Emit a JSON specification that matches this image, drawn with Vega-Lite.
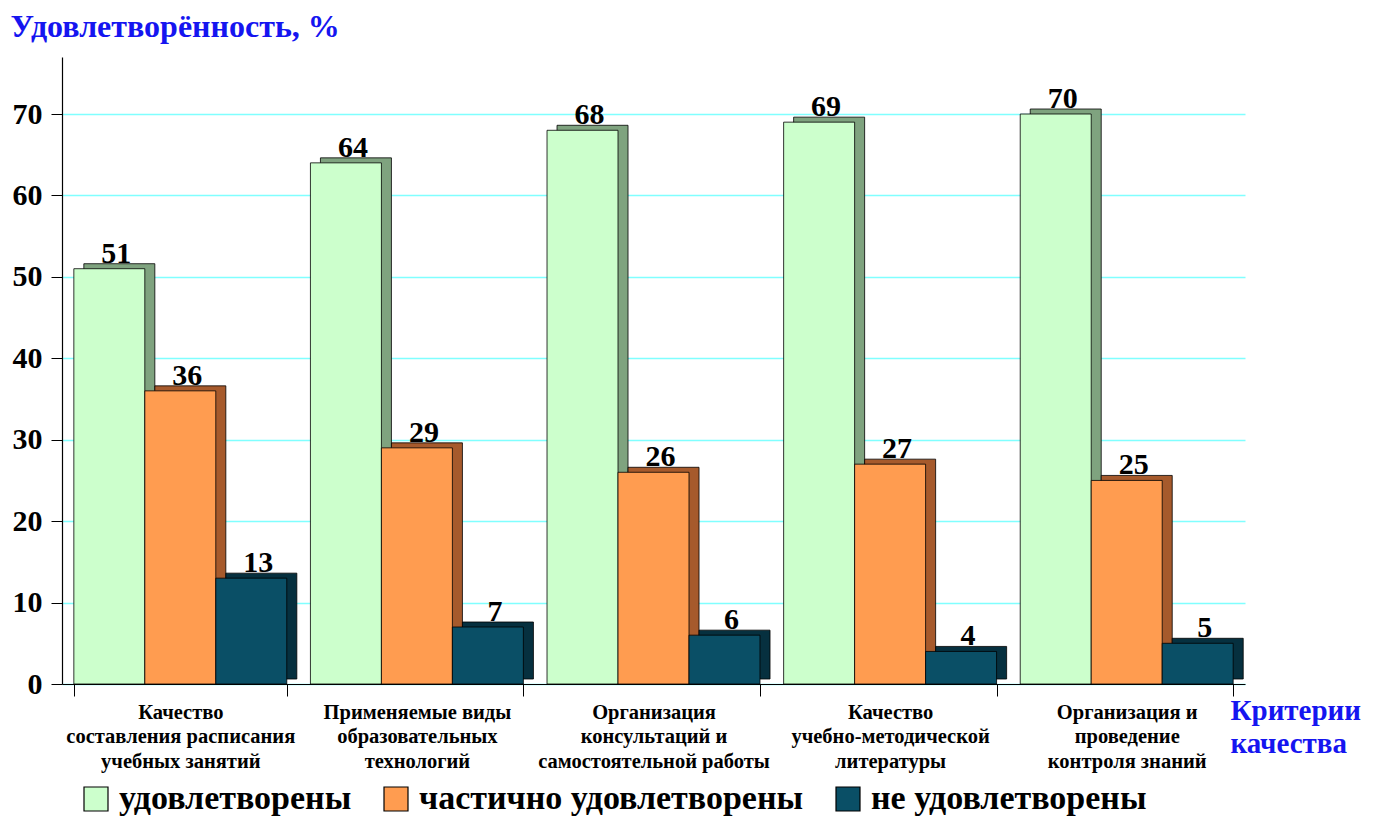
{
  "$schema": "https://vega.github.io/schema/vega-lite/v6.json",
  "autosize": "none",
  "width": 1183,
  "height": 627,
  "padding": {"left": 62, "top": 57, "right": 131, "bottom": 134},
  "background": "white",
  "config": {"view": {"stroke": null}, "font": "Liberation Serif"},
  "data": {
    "values": [
      {"crit": "Качество|составления расписания|учебных  занятий", "group": "удовлетворены", "value": 51},
      {"crit": "Качество|составления расписания|учебных  занятий", "group": "частично удовлетворены", "value": 36},
      {"crit": "Качество|составления расписания|учебных  занятий", "group": "не удовлетворены", "value": 13},
      {"crit": "Применяемые виды|образовательных|технологий", "group": "удовлетворены", "value": 64},
      {"crit": "Применяемые виды|образовательных|технологий", "group": "частично удовлетворены", "value": 29},
      {"crit": "Применяемые виды|образовательных|технологий", "group": "не удовлетворены", "value": 7},
      {"crit": "Организация|консультаций и|самостоятельной работы", "group": "удовлетворены", "value": 68},
      {"crit": "Организация|консультаций и|самостоятельной работы", "group": "частично удовлетворены", "value": 26},
      {"crit": "Организация|консультаций и|самостоятельной работы", "group": "не удовлетворены", "value": 6},
      {"crit": "Качество|учебно-методической|литературы", "group": "удовлетворены", "value": 69},
      {"crit": "Качество|учебно-методической|литературы", "group": "частично удовлетворены", "value": 27},
      {"crit": "Качество|учебно-методической|литературы", "group": "не удовлетворены", "value": 4},
      {"crit": "Организация и|проведение|контроля знаний", "group": "удовлетворены", "value": 70},
      {"crit": "Организация и|проведение|контроля знаний", "group": "частично удовлетворены", "value": 25},
      {"crit": "Организация и|проведение|контроля знаний", "group": "не удовлетворены", "value": 5}
    ]
  },
  "encoding": {
    "x": {
      "field": "crit", "type": "nominal", "sort": null,
      "scale": {"paddingInner": 0.1, "paddingOuter": 0.05},
      "axis": {
        "title": ["Критерии", "качества"],
        "titleFont": "Liberation Serif", "titleFontSize": 29, "titleFontWeight": "bold",
        "titleColor": "#1515F0", "titleAlign": "left", "titleBaseline": "alphabetic",
        "titleX": 1168, "titleY": 35, "titleLineHeight": 33,
        "labelAngle": 0, "labelExpr": "split(datum.label, '|')",
        "labelFont": "Liberation Serif", "labelFontSize": 20.5, "labelFontWeight": "bold",
        "labelColor": "black", "labelLineHeight": 24.5, "labelPadding": 6,
        "tickBand": "extent", "tickSize": 12, "tickColor": "black",
        "domainColor": "black", "domainWidth": 1.2, "labelLimit": 300
      }
    },
    "y": {
      "field": "value", "type": "quantitative",
      "scale": {"domain": [0, 77], "nice": false},
      "axis": {
        "title": "Удовлетворённость, %",
        "titleFont": "Liberation Serif", "titleFontSize": 32, "titleFontWeight": "bold",
        "titleColor": "#1515F0", "titleAngle": 0, "titleAlign": "left", "titleBaseline": "alphabetic",
        "titleX": -52, "titleY": -21,
        "values": [0, 10, 20, 30, 40, 50, 60, 70],
        "labelFont": "Liberation Serif", "labelFontSize": 30, "labelFontWeight": "bold",
        "labelColor": "black", "labelPadding": 9,
        "tickColor": "black", "tickSize": 11, "domainColor": "black", "domainWidth": 1.2,
        "grid": true, "gridColor": "#80FFFF", "gridWidth": 1.5
      }
    }
  },
  "layer": [
    {
      "mark": {"type": "bar", "yOffset": -5, "stroke": "black", "strokeWidth": 0.8},
      "encoding": {
        "xOffset": {"field": "group", "sort": ["удовлетворены", "частично удовлетворены", "не удовлетворены"], "scale": {"range": [10, 223]}},
        "fill": {
          "field": "group", "type": "nominal", "legend": null,
          "scale": {"domain": ["удовлетворены", "частично удовлетворены", "не удовлетворены"], "range": ["#7FA37F", "#A65A2C", "#06303F"]}
        }
      }
    },
    {
      "encoding": {
        "xOffset": {"field": "group", "sort": ["удовлетворены", "частично удовлетворены", "не удовлетворены"]}
      },
      "layer": [
        {
          "mark": {"type": "bar", "stroke": "black", "strokeWidth": 0.8},
          "encoding": {
            "fill": {
              "field": "group", "type": "nominal",
              "scale": {"domain": ["удовлетворены", "частично удовлетворены", "не удовлетворены"], "range": ["#CCFFCC", "#FF9C50", "#0A4F66"]},
              "legend": {
                "title": null, "orient": "none", "direction": "horizontal",
                "legendX": 17, "legendY": 725,
                "symbolType": "square", "symbolSize": 576, "symbolStrokeColor": "black", "symbolStrokeWidth": 1.2,
                "labelFont": "Liberation Serif", "labelFontSize": 34, "labelFontWeight": "bold", "labelColor": "black",
                "labelOffset": 6, "columnPadding": 27, "labelLimit": 600
              }
            }
          }
        },
        {
          "mark": {"type": "text", "baseline": "alphabetic", "dy": -6, "dx": 7, "font": "Liberation Serif", "fontSize": 30, "fontWeight": "bold", "color": "black"},
          "encoding": {"text": {"field": "value"}}
        }
      ]
    }
  ],
  "resolve": {"scale": {"fill": "independent", "xOffset": "independent"}, "legend": {"fill": "independent"}}
}
